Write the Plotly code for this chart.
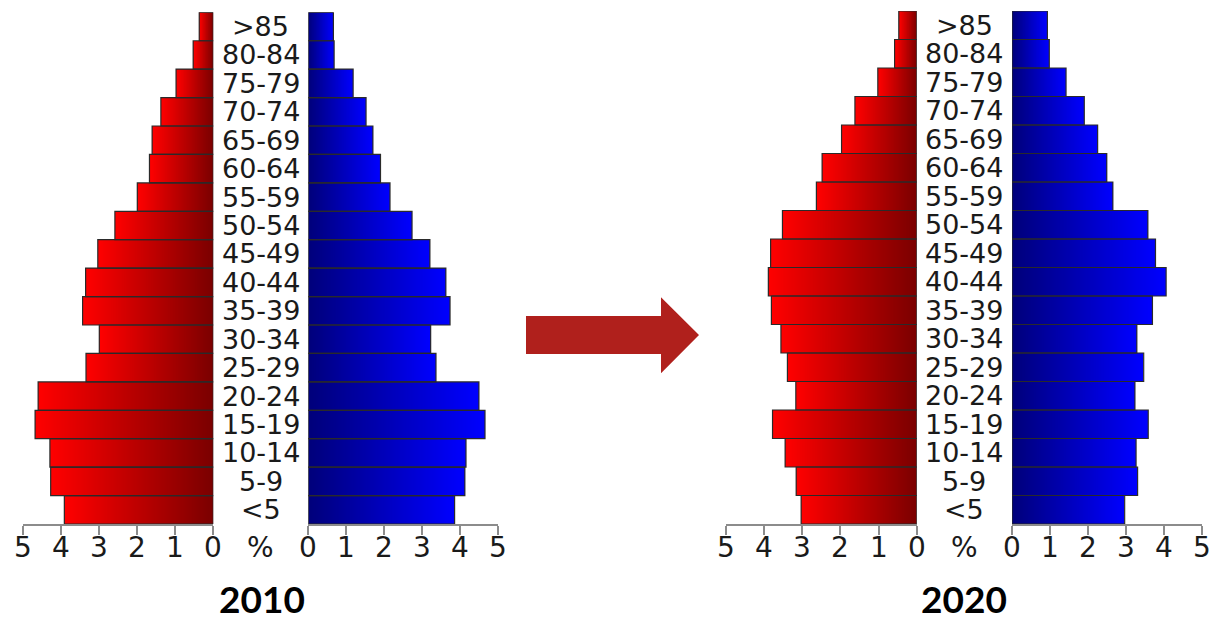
import numpy as np
import plotly.graph_objects as go

W, H = 1210, 618

ages = ["<5", "5-9", "10-14", "15-19", "20-24", "25-29", "30-34", "35-39", "40-44",
        "45-49", "50-54", "55-59", "60-64", "65-69", "70-74", "75-79", "80-84", ">85"]

# percentages, ordered from youngest (bottom) to oldest (top)
red_2010 = [3.92, 4.28, 4.30, 4.69, 4.61, 3.35, 3.00, 3.44, 3.36, 3.04, 2.59, 2.00, 1.68, 1.61, 1.38, 0.98, 0.53, 0.37]
blue_2010 = [3.85, 4.12, 4.15, 4.65, 4.49, 3.36, 3.22, 3.73, 3.62, 3.20, 2.73, 2.15, 1.90, 1.70, 1.52, 1.18, 0.68, 0.66]
red_2020 = [3.03, 3.16, 3.45, 3.78, 3.17, 3.39, 3.56, 3.81, 3.89, 3.83, 3.52, 2.63, 2.48, 1.97, 1.62, 1.02, 0.58, 0.47]
blue_2020 = [2.96, 3.30, 3.26, 3.58, 3.23, 3.46, 3.28, 3.69, 4.05, 3.77, 3.57, 2.65, 2.49, 2.25, 1.90, 1.42, 0.98, 0.93]

tick_vals = [0, 1, 2, 3, 4, 5]
tick_text = ["0", "1", "2", "3", "4", "5"]
years = ["2010", "2020"]


def px_x(p):
    return p / W


def px_y(p):
    return 1 - p / H


fig = go.Figure()

RED_SCALE = [[0, "#7a0000"], [1, "#ff0000"]]
BLUE_SCALE = [[0, "#00007a"], [1, "#0000ff"]]
OUTLINE = "#2a2a2a"

grid = np.arange(0.005, 5.0, 0.01)


def add_side(values, xa, ya, scale):
    # per-bar horizontal gradient (dark at 0, bright at the bar end)
    z = []
    for v in values:
        z.append([(g / v) if g <= v else None for g in grid])
    fig.add_trace(go.Heatmap(
        x=grid, y=ages, z=z, zmin=0, zmax=1, colorscale=scale, showscale=False,
        hoverinfo="skip", xaxis=xa, yaxis=ya))
    fig.add_trace(go.Bar(
        x=values, y=ages, orientation="h", width=1,
        marker=dict(color="rgba(0,0,0,0)", line=dict(color=OUTLINE, width=1.2)),
        xaxis=xa, yaxis=ya, showlegend=False, hoverinfo="skip"))


add_side(red_2010, "x", "y", RED_SCALE)
add_side(blue_2010, "x2", "y", BLUE_SCALE)
add_side(red_2020, "x3", "y2", RED_SCALE)
add_side(blue_2020, "x4", "y2", BLUE_SCALE)

axis_common = dict(
    tickvals=tick_vals, showline=True, linecolor="#8c8c8c", linewidth=2,
    ticks="outside", ticklen=9, tickwidth=2, tickcolor="#8c8c8c", showgrid=False,
    zeroline=False, showticklabels=False, automargin=False, fixedrange=True,
)

fig.update_layout(
    width=W, height=H, autosize=False,
    margin=dict(l=0, r=0, t=0, b=0, pad=0),
    paper_bgcolor="white", plot_bgcolor="rgba(0,0,0,0)",
    barmode="overlay", showlegend=False,
    xaxis=dict(domain=[px_x(23.3), px_x(213.3)], anchor="y", range=[5, 0], **axis_common),
    xaxis2=dict(domain=[px_x(308.3), px_x(498.3)], anchor="y", range=[0, 5], **axis_common),
    xaxis3=dict(domain=[px_x(726), px_x(916.7)], anchor="y2", range=[5, 0], **axis_common),
    xaxis4=dict(domain=[px_x(1012), px_x(1202.3)], anchor="y2", range=[0, 5], **axis_common),
    yaxis=dict(domain=[px_y(524), px_y(12.3)], range=[-0.5, 17.5], visible=False,
               categoryorder="array", categoryarray=ages, anchor="x", fixedrange=True),
    yaxis2=dict(domain=[px_y(524), px_y(11)], range=[-0.5, 17.5], visible=False,
                categoryorder="array", categoryarray=ages, anchor="x3", fixedrange=True),
)

tick_font = dict(family="DejaVu Sans", size=28, color="#1a1a1a")
for xr in ["x", "x2", "x3", "x4"]:
    for v, t in zip(tick_vals, tick_text):
        fig.add_annotation(x=v, xref=xr, y=px_y(547), yref="paper", text=t, showarrow=False,
                           xanchor="center", yanchor="middle", font=tick_font)

label_font = dict(family="DejaVu Sans", size=27, color="#1a1a1a")
centers = [px_x(260.8), px_x(964.3)]
for cx, yref in zip(centers, ["y", "y2"]):
    for a in ages:
        fig.add_annotation(x=cx, xref="paper", y=a, yref=yref, text=a, showarrow=False,
                           xanchor="center", yanchor="middle", font=label_font)
    fig.add_annotation(x=cx, xref="paper", y=px_y(547), yref="paper", text="%",
                       showarrow=False, xanchor="center", yanchor="middle", font=tick_font)

for cx, yr in zip([px_x(262), px_x(964)], years):
    fig.add_annotation(x=cx, xref="paper", y=px_y(598), yref="paper", text="<b>%s</b>" % yr,
                       showarrow=False, xanchor="center", yanchor="middle",
                       font=dict(family="Lato", size=37, color="black"))

# decorative arrow between the two pyramids
pts = [(526, 316), (661, 316), (661, 297.3), (699, 335), (661, 373.3), (661, 354), (526, 354)]
path = "M " + " L ".join("%.5f,%.5f" % (px_x(a), px_y(b)) for a, b in pts) + " Z"
fig.add_shape(type="path", xref="paper", yref="paper", path=path,
              fillcolor="#b0201c", line=dict(width=0))

fig.write_html("out.html", config={"displayModeBar": False},
               post_script="document.body.style.margin='0';")
